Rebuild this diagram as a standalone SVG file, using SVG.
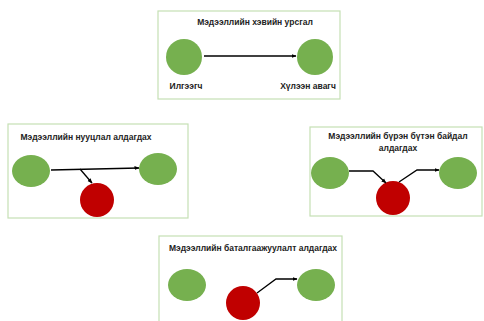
<svg xmlns="http://www.w3.org/2000/svg" width="484" height="321" viewBox="0 0 484 321">
<defs>
<marker id="ah" viewBox="0 0 10 10" refX="9" refY="5" markerWidth="5" markerHeight="5" orient="auto" markerUnits="userSpaceOnUse"><path d="M0,1 L10,5 L0,9 z" fill="#000"/></marker>
<style>
.box{fill:#fff;stroke:#c5e0b4;stroke-width:1.2}
.g{fill:#76b04f}
.r{fill:#c00000}
.t{font-family:"Liberation Sans",Arial,sans-serif;font-weight:bold;font-size:8.5px;fill:#222}
.c{fill:none;stroke:#000;stroke-width:1.3;marker-end:url(#ah)}
</style>
</defs>
<rect width="484" height="321" fill="#fff"/>
<g id="panel1">
<rect class="box" x="158" y="11" width="182" height="88"/>
<text class="t" x="255" y="25" text-anchor="middle">Мэдээллийн хэвийн урсгал</text>
<ellipse id="n1a" class="g" cx="184" cy="57" rx="18" ry="18"/>
<ellipse id="n1b" class="g" cx="315" cy="57" rx="18" ry="18"/>
<text class="t" x="186" y="89" text-anchor="middle">Илгээгч</text>
<text class="t" x="308" y="89" text-anchor="middle">Хүлээн авагч</text>
</g>
<g id="panel2">
<rect class="box" x="8" y="124" width="180" height="94"/>
<text class="t" x="86" y="140" text-anchor="middle">Мэдээллийн нууцлал алдагдах</text>
<ellipse id="n2a" class="g" cx="31" cy="171" rx="19" ry="16"/>
<ellipse id="n2b" class="g" cx="158" cy="169" rx="19" ry="16"/>
<circle id="n2r" class="r" cx="97" cy="200" r="17"/>
</g>
<g id="panel3">
<rect class="box" x="310" y="127" width="172" height="89"/>
<text class="t" x="398" y="139" text-anchor="middle">Мэдээллийн бүрэн бүтэн байдал</text>
<text class="t" x="398" y="151" text-anchor="middle">алдагдах</text>
<ellipse id="n3a" class="g" cx="330" cy="173" rx="19" ry="16"/>
<circle id="n3r" class="r" cx="393" cy="198" r="17"/>
<ellipse id="n3b" class="g" cx="458" cy="173" rx="19" ry="16"/>
</g>
<g id="panel4">
<rect class="box" x="159" y="236" width="183" height="90"/>
<text class="t" x="253" y="251" text-anchor="middle">Мэдээллийн баталгаажуулалт алдагдах</text>
<ellipse id="n4a" class="g" cx="187" cy="285" rx="19" ry="16"/>
<circle id="n4r" class="r" cx="243" cy="303" r="17"/>
<ellipse id="n4b" class="g" cx="316" cy="285" rx="19" ry="16"/>
</g>
<g id="connectors">
<line class="c" x1="204" y1="56" x2="296" y2="56"/>
<line class="c" x1="51" y1="170" x2="139" y2="168"/>
<line class="c" x1="80" y1="169" x2="92" y2="183"/>
<polyline class="c" points="349,171 373,171 386,183"/>
<polyline class="c" points="399,182 417,170 439,170"/>
<polyline class="c" points="257,293 276,279 297,279"/>
</g>
</svg>
